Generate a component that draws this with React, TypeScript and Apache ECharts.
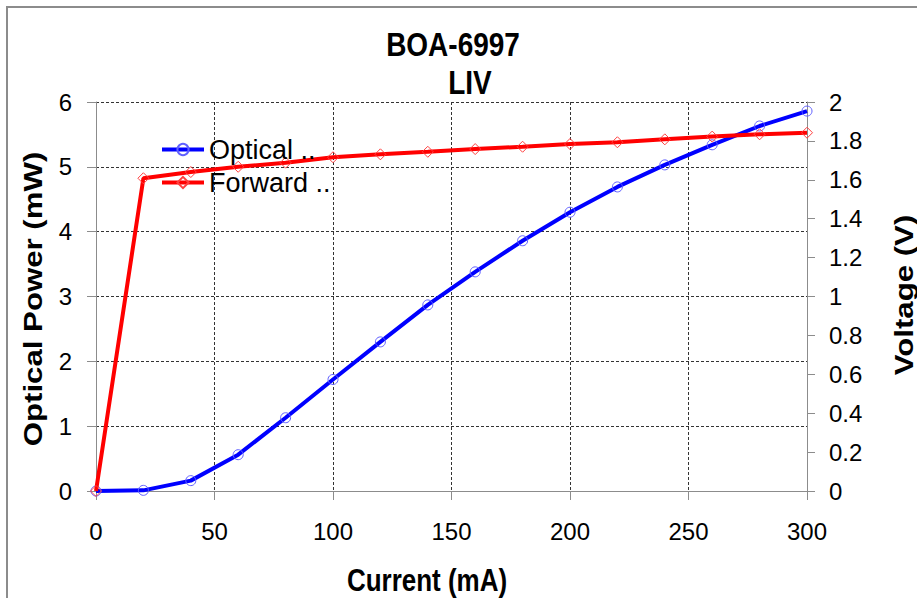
import React, { useEffect, useRef } from "react";
import * as echarts from "echarts";

const currents = [0, 20, 40, 60, 80, 100, 120, 140, 160, 180, 200, 220, 240, 260, 280, 300];
const opticalPower = [0, 0.01, 0.16, 0.56, 1.13, 1.72, 2.3, 2.87, 3.38, 3.86, 4.3, 4.69, 5.03, 5.34, 5.63, 5.86];
const forwardVoltage = [0, 1.608, 1.64, 1.667, 1.688, 1.716, 1.731, 1.744, 1.758, 1.77, 1.784, 1.793, 1.808, 1.822, 1.834, 1.842];

const titleLines = ["BOA-6997", "LIV"];
const seriesNames = ["Optical ..", "Forward .."];
const xName = "Current (mA)";
const yLeftName = "Optical Power (mW)";
const yRightName = "Voltage (V)";

const FONT = "'Liberation Sans', Arial, sans-serif";

export default function App() {
  const ref = useRef<HTMLDivElement>(null);

  useEffect(() => {
    if (!ref.current) return;
    const chart = echarts.init(ref.current, undefined, { renderer: "svg" });
    const opt = currents.map((c, i) => [c, opticalPower[i]]);
    const fwd = currents.map((c, i) => [c, forwardVoltage[i]]);

    chart.setOption({
      animation: false,
      backgroundColor: "#fff",
      textStyle: { fontFamily: FONT },
      grid: { left: 96, right: 110, top: 102, bottom: 107, containLabel: false },
      legend: {
        left: 160,
        top: 136,
        padding: 0,
        orient: "vertical",
        itemWidth: 42,
        itemHeight: 14,
        itemGap: 6,
        lineStyle: { width: 4 },
        textStyle: { fontSize: 27, color: "#000", fontFamily: FONT },
        data: seriesNames,
      },
      xAxis: {
        type: "value",
        min: 0,
        max: 300,
        interval: 50,
        axisLine: { show: true, lineStyle: { color: "#8c8c8c", width: 1 } },
        axisTick: { show: true, length: 9, lineStyle: { color: "#8c8c8c" } },
        axisLabel: { fontSize: 24, color: "#000", margin: 28, fontFamily: FONT },
        splitLine: { show: true, lineStyle: { color: "#333", type: [3, 2], width: 1 } },
      },
      yAxis: [
        {
          type: "value",
          min: 0,
          max: 6,
          interval: 1,
          position: "left",
          axisLine: { show: true, lineStyle: { color: "#8c8c8c", width: 1 } },
          axisTick: { show: true, length: 9, lineStyle: { color: "#8c8c8c" } },
          axisLabel: { fontSize: 24, color: "#000", margin: 24, fontFamily: FONT },
          splitLine: { show: true, lineStyle: { color: "#333", type: [3, 2], width: 1 } },
        },
        {
          type: "value",
          min: 0,
          max: 2,
          interval: 0.2,
          position: "right",
          axisLine: { show: true, lineStyle: { color: "#8c8c8c", width: 1 } },
          axisTick: { show: true, length: 8, lineStyle: { color: "#8c8c8c" } },
          axisLabel: { fontSize: 24, color: "#000", margin: 22, fontFamily: FONT },
          splitLine: { show: false },
        },
      ],
      series: [
        {
          name: seriesNames[0],
          type: "line",
          yAxisIndex: 0,
          data: opt,
          symbol: "circle",
          symbolSize: 10,
          lineStyle: { color: "#0000ff", width: 4 },
          itemStyle: { color: "rgba(0,0,0,0)", borderColor: "#6060ff", borderWidth: 1 },
          z: 2,
        },
        {
          name: seriesNames[1],
          type: "line",
          yAxisIndex: 1,
          data: fwd,
          symbol: "diamond",
          symbolSize: 11,
          lineStyle: { color: "#ff0000", width: 4 },
          itemStyle: { color: "rgba(0,0,0,0)", borderColor: "#ff4040", borderWidth: 1 },
          z: 3,
        },
      ],
      graphic: [
        {
          type: "rect",
          shape: { x: 7, y: 7, width: 930, height: 620 },
          style: { fill: "none", stroke: "#8c8c8c", lineWidth: 2 },
          silent: true,
          z: 0,
        },
        {
          type: "text",
          x: 453,
          y: 45,
          scaleY: 1.2,
          style: { text: titleLines[0], fontSize: 28, fontWeight: "bold", fontFamily: FONT, fill: "#000", align: "center", verticalAlign: "middle" },
        },
        {
          type: "text",
          x: 470,
          y: 83,
          scaleY: 1.2,
          style: { text: titleLines[1], fontSize: 28, fontWeight: "bold", fontFamily: FONT, fill: "#000", align: "center", verticalAlign: "middle" },
        },
        {
          type: "text",
          x: 427,
          y: 580,
          scaleY: 1.2,
          style: { text: xName, fontSize: 26, fontWeight: "bold", fontFamily: FONT, fill: "#000", align: "center", verticalAlign: "middle" },
        },
        {
          type: "text",
          x: 33,
          y: 299,
          rotation: Math.PI / 2,
          scaleX: 1.2,
          style: { text: yLeftName, fontSize: 26, fontWeight: "bold", fontFamily: FONT, fill: "#000", align: "center", verticalAlign: "middle" },
        },
        {
          type: "text",
          x: 904,
          y: 295,
          rotation: Math.PI / 2,
          scaleX: 1.2,
          style: { text: yRightName, fontSize: 26, fontWeight: "bold", fontFamily: FONT, fill: "#000", align: "center", verticalAlign: "middle" },
        },
      ],
    });
    return () => chart.dispose();
  }, []);

  return (
    <div
      ref={ref}
      style={{ position: "fixed", left: 0, top: 0, width: 917, height: 598 }}
    />
  );
}
